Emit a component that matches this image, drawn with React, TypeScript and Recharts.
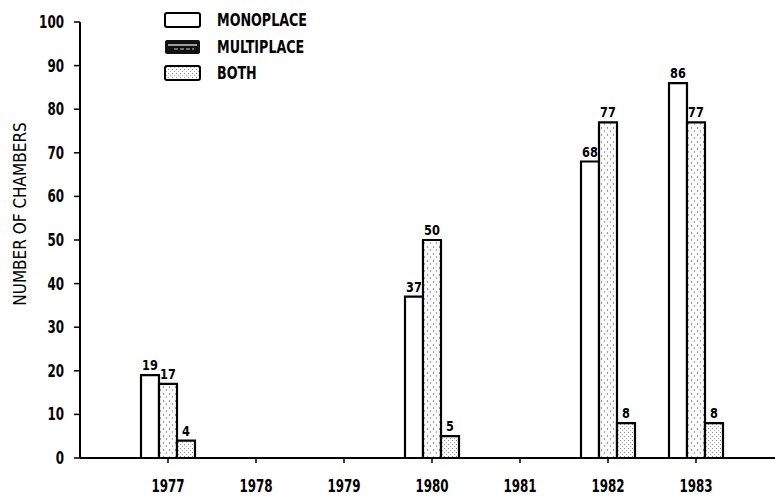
import { BarChart, Bar, XAxis, YAxis, Legend, LabelList } from 'recharts'

// values
const years = ['1977', '1978', '1979', '1980', '1981', '1982', '1983']
const monoplace = [19, null, null, 37, null, 68, 86]
const multiplace = [17, null, null, 50, null, 77, 77]
const both = [4, null, null, 5, null, 8, 8]
const yTicks = [0, 10, 20, 30, 40, 50, 60, 70, 80, 90, 100]

const FONT = "'DejaVu Sans Condensed', 'DejaVu Sans', sans-serif"

const chartData = years.map((year, i) => ({
  year,
  monoplace: monoplace[i],
  multiplace: multiplace[i],
  both: both[i],
}))

const legendItems = [
  { key: 'monoplace', label: 'MONOPLACE' },
  { key: 'multiplace', label: 'MULTIPLACE' },
  { key: 'both', label: 'BOTH' },
]

// the scan uses a tall narrow typeface, so squeeze the text horizontally
function XTick(props: any) {
  const { x, y, payload } = props
  return (
    <text
      transform={`translate(${x},${y}) scale(0.78,1)`}
      textAnchor="middle"
      dy="0.71em"
      fontFamily={FONT}
      fontSize={17}
      fontWeight={700}
      fill="#000"
    >
      {payload.value}
    </text>
  )
}

function YTick(props: any) {
  const { x, y, payload } = props
  return (
    <text
      transform={`translate(${x},${y}) scale(0.78,1)`}
      textAnchor="end"
      dy="0.355em"
      fontFamily={FONT}
      fontSize={17}
      fontWeight={700}
      fill="#000"
    >
      {payload.value}
    </text>
  )
}

function renderValue(props: any) {
  const { x, y, width, value } = props
  if (value == null) return null
  return (
    <text
      transform={`translate(${Number(x) + Number(width) / 2},${Number(y) - 5}) scale(0.9,1)`}
      textAnchor="middle"
      fontFamily={FONT}
      fontSize={14}
      fontWeight={700}
      fill="#000"
    >
      {value}
    </text>
  )
}

function Swatch({ kind }: { kind: string }) {
  if (kind === 'multiplace') {
    return (
      <svg width={38} height={16} style={{ display: 'block' }}>
        <rect x={1} y={1} width={35} height={14} rx={2} fill="#111" />
        <line x1={4} y1={6} x2={33} y2={6} stroke="#fff" strokeWidth={1.2} />
        <line x1={10} y1={10} x2={30} y2={10} stroke="#ccc" strokeWidth={1} strokeDasharray="4 2" />
      </svg>
    )
  }
  return (
    <svg width={38} height={16} style={{ display: 'block' }}>
      <rect
        x={1}
        y={1}
        width={35}
        height={14}
        rx={2}
        fill={kind === 'both' ? 'url(#bothFill)' : '#fff'}
        stroke="#000"
        strokeWidth={2}
      />
    </svg>
  )
}

function LegendBox() {
  return (
    <div style={{ fontFamily: FONT, fontSize: 17, fontWeight: 700, color: '#000' }}>
      {legendItems.map((item) => (
        <div key={item.key} style={{ display: 'flex', alignItems: 'center', height: 26.5 }}>
          <Swatch kind={item.key} />
          <span
            style={{
              marginLeft: 15,
              lineHeight: '26px',
              display: 'inline-block',
              transform: 'scaleX(0.83)',
              transformOrigin: 'left center',
              whiteSpace: 'nowrap',
            }}
          >
            {item.label}
          </span>
        </div>
      ))}
    </div>
  )
}

export default function App() {
  return (
    <div style={{ position: 'absolute', left: 0, top: 0, width: 775, height: 498, background: '#fff' }}>
      <BarChart
        width={775}
        height={498}
        data={chartData}
        margin={{ top: 22, right: 0, bottom: 0, left: 0 }}
        barSize={18}
        barGap={0}
      >
        <defs>
          <pattern id="multiFill" width={6} height={7} patternUnits="userSpaceOnUse">
            <rect width={6} height={7} fill="#fff" />
            <rect x={1} y={1} width={1} height={2} fill="#999" />
            <rect x={4} y={4} width={1} height={2} fill="#aaa" />
          </pattern>
          <pattern id="bothFill" width={4} height={4} patternUnits="userSpaceOnUse">
            <rect width={4} height={4} fill="#fff" />
            <rect x={0} y={0} width={1} height={1} fill="#888" />
            <rect x={2} y={2} width={1} height={1} fill="#aaa" />
          </pattern>
        </defs>
        <XAxis
          dataKey="year"
          height={40}
          padding={{ left: 44, right: 35 }}
          axisLine={{ stroke: '#000', strokeWidth: 2 }}
          tickLine={{ stroke: '#000', strokeWidth: 1.5 }}
          tickSize={5}
          tickMargin={17}
          tick={<XTick />}
        />
        <YAxis
          width={80}
          domain={[0, 100]}
          ticks={yTicks}
          interval={0}
          axisLine={{ stroke: '#000', strokeWidth: 2 }}
          tickLine={{ stroke: '#000', strokeWidth: 1.5 }}
          tickSize={6}
          tickMargin={10}
          tick={<YTick />}
          label={{
            content: () => (
              <text
                x={20}
                y={214}
                transform="rotate(-90 20 214)"
                textAnchor="middle"
                dominantBaseline="central"
                fontFamily={FONT}
                fontSize={17}
                fill="#000"
              >
                NUMBER OF CHAMBERS
              </text>
            ),
          }}
        />
        <Legend
          layout="vertical"
          align="center"
          verticalAlign="middle"
          content={() => <LegendBox />}
          wrapperStyle={{ position: 'absolute', left: 164, top: 7, width: 'auto' }}
        />
        <Bar dataKey="monoplace" fill="#fff" stroke="#000" strokeWidth={2.2} isAnimationActive={false}>
          <LabelList dataKey="monoplace" content={renderValue} />
        </Bar>
        <Bar dataKey="multiplace" fill="url(#multiFill)" stroke="#000" strokeWidth={2.2} isAnimationActive={false}>
          <LabelList dataKey="multiplace" content={renderValue} />
        </Bar>
        <Bar dataKey="both" fill="url(#bothFill)" stroke="#000" strokeWidth={2.2} isAnimationActive={false}>
          <LabelList dataKey="both" content={renderValue} />
        </Bar>
      </BarChart>
    </div>
  )
}
